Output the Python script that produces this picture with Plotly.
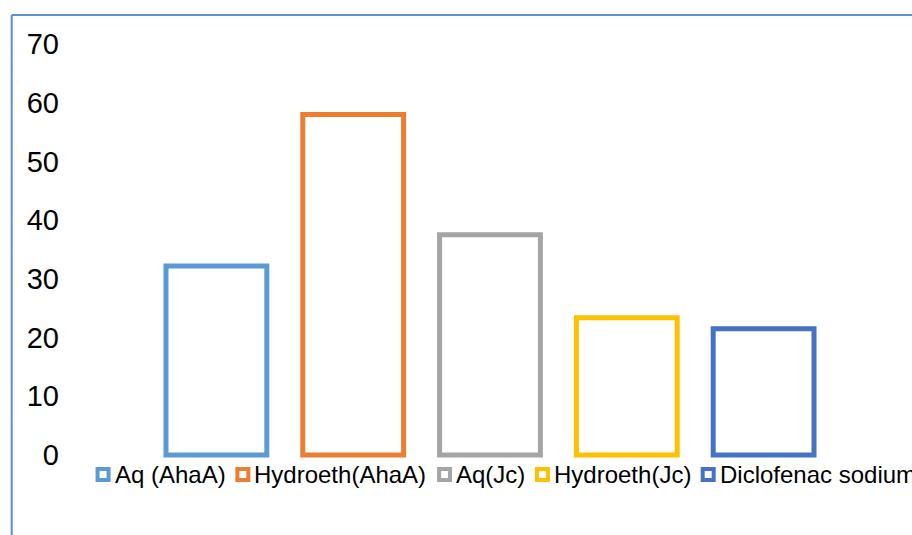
import plotly.graph_objects as go

# Extract series and their measured values
series_names = ["Aq (AhaA)", "Hydroeth(AhaA)", "Aq(Jc)", "Hydroeth(Jc)", "Diclofenac sodium"]
series_values = [32.2, 58.0, 37.5, 23.4, 21.5]
series_colors = ["#5B9BD5", "#ED7D31", "#A5A5A5", "#FFC000", "#4472C4"]
y_ticks = [0, 10, 20, 30, 40, 50, 60, 70]

W, H = 912, 535
M_L, M_R, M_T, M_B = 147.5, 79.5, 43.5, 77.06
FONT = "Arial, 'Liberation Sans', sans-serif"


def px_x(px):
    return (px - M_L) / (W - M_L - M_R)


def px_y(py):
    return 1 - (py - M_T) / (H - M_T - M_B)


fig = go.Figure()
for name, val, col in zip(series_names, series_values, series_colors):
    fig.add_trace(go.Bar(
        x=[name], y=[val], name=name, width=0.737,
        marker=dict(color="white", line=dict(color=col, width=5)),
        showlegend=False,
    ))

shapes = []
annotations = []

# chart-area border (top and left edges)
border = "#5B8FD8"
shapes.append(dict(type="line", xref="paper", yref="paper",
                   x0=px_x(11), x1=px_x(W + 5), y0=px_y(14.5), y1=px_y(14.5),
                   line=dict(color=border, width=2)))
shapes.append(dict(type="line", xref="paper", yref="paper",
                   x0=px_x(11), x1=px_x(11), y0=px_y(14.5), y1=px_y(H + 5),
                   line=dict(color=border, width=2)))

# legend row along the bottom
legend_marker_left = [95, 235, 437, 535, 701]
legend_y = 474.5
for name, col, mx in zip(series_names, series_colors, legend_marker_left):
    shapes.append(dict(type="rect", xref="paper", yref="paper",
                       x0=px_x(mx + 2), x1=px_x(mx + 13),
                       y0=px_y(legend_y - 5.5), y1=px_y(legend_y + 5.5),
                       fillcolor="white", line=dict(color=col, width=4)))
    annotations.append(dict(xref="paper", yref="paper", x=px_x(mx + 17), y=px_y(legend_y),
                            xanchor="left", yanchor="middle", showarrow=False,
                            text=name, font=dict(family=FONT, size=24, color="#000000")))

fig.update_layout(
    width=W, height=H,
    margin=dict(l=M_L, r=M_R, t=M_T, b=M_B, pad=0),
    paper_bgcolor="white", plot_bgcolor="white",
    barmode="overlay",
    xaxis=dict(showticklabels=False, showgrid=False, zeroline=False, showline=False,
               ticks="", range=[-0.5, 4.5], automargin=False),
    yaxis=dict(range=[-0.5, 70], tickvals=y_ticks, showgrid=False, zeroline=False,
               showline=False, ticks="", automargin=False, ticklabelstandoff=88,
               tickfont=dict(family=FONT, size=29, color="#000000")),
    shapes=shapes, annotations=annotations,
    showlegend=False,
)

fig.write_html("out.html")
